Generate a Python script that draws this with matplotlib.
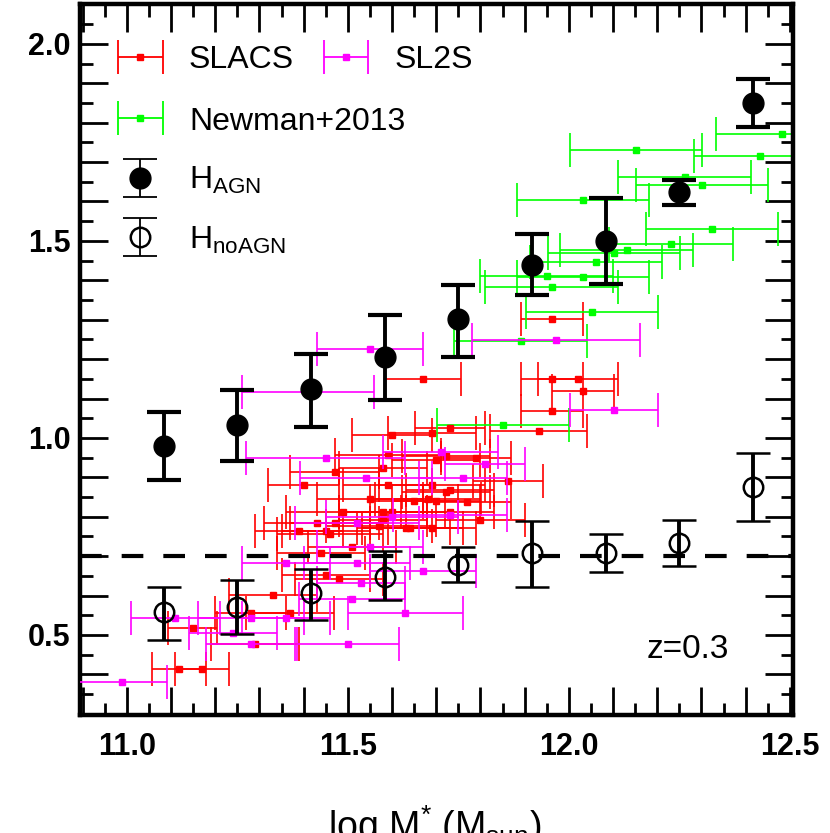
import matplotlib
matplotlib.use('Agg')
import matplotlib.pyplot as plt
from matplotlib.ticker import MultipleLocator, FuncFormatter
from matplotlib.legend_handler import HandlerErrorbar
from matplotlib.collections import LineCollection
from matplotlib.lines import Line2D

plt.rcParams['font.family'] = ['Liberation Sans', 'DejaVu Sans']
plt.rcParams['mathtext.fontset'] = 'custom'
plt.rcParams['mathtext.rm'] = 'Liberation Sans'
plt.rcParams['mathtext.it'] = 'Liberation Sans:italic'
plt.rcParams['mathtext.bf'] = 'Liberation Sans:bold'

# simulation bins: with AGN feedback / without
h_mass = [11.083, 11.250, 11.417, 11.583, 11.750, 11.917, 12.083, 12.250, 12.417]
agn_val = [0.979, 1.032, 1.124, 1.205, 1.301, 1.438, 1.499, 1.623, 1.849]
agn_lo = [0.086, 0.091, 0.097, 0.109, 0.096, 0.076, 0.109, 0.033, 0.061]
agn_hi = [0.087, 0.089, 0.088, 0.106, 0.086, 0.079, 0.109, 0.031, 0.061]
noagn_val = [0.558, 0.571, 0.606, 0.647, 0.677, 0.708, 0.708, 0.733, 0.875]
noagn_lo = [0.071, 0.069, 0.068, 0.058, 0.043, 0.086, 0.048, 0.058, 0.086]
noagn_hi = [0.064, 0.068, 0.061, 0.066, 0.046, 0.081, 0.048, 0.058, 0.086]

# observations
slacs_x = [11.961, 11.670, 11.962, 12.020, 12.032, 11.962, 11.932, 11.731, 11.690, 11.600,
           11.590, 11.722, 11.700, 11.790, 11.579, 11.470, 11.862, 11.400, 11.590, 11.690,
           11.731, 11.722, 11.550, 11.649, 11.681, 11.700, 11.770, 11.490, 11.579, 11.600,
           11.731, 11.579, 11.800, 11.430, 11.470, 11.570, 11.631, 11.640, 11.690, 11.389,
           11.450, 11.459, 11.509, 11.439, 11.480, 11.450, 11.330, 11.280, 11.369, 11.149,
           11.290, 11.118, 11.170]
slacs_y = [1.301, 1.149, 1.149, 1.149, 1.119, 1.068, 1.017, 1.025, 1.012, 1.007,
           0.956, 0.954, 0.944, 0.949, 0.924, 0.913, 0.890, 0.880, 0.880, 0.880,
           0.868, 0.863, 0.845, 0.840, 0.845, 0.840, 0.838, 0.812, 0.812, 0.812,
           0.812, 0.792, 0.792, 0.784, 0.784, 0.776, 0.771, 0.771, 0.771, 0.764,
           0.764, 0.756, 0.723, 0.708, 0.642, 0.652, 0.601, 0.556, 0.556, 0.518,
           0.477, 0.414, 0.414]
slacs_xerr = [0.07, 0.085, 0.07, 0.09, 0.07, 0.07, 0.11, 0.08, 0.10, 0.09,
              0.12, 0.10, 0.10, 0.08, 0.10, 0.10, 0.08, 0.08, 0.10, 0.12,
              0.10, 0.10, 0.12, 0.10, 0.12, 0.10, 0.10, 0.13, 0.10, 0.12,
              0.10, 0.10, 0.10, 0.12, 0.10, 0.12, 0.10, 0.12, 0.10, 0.10,
              0.10, 0.12, 0.10, 0.10, 0.10, 0.10, 0.10, 0.08, 0.10, 0.055,
              0.10, 0.06, 0.06]

sl2s_x = [11.550, 11.971, 11.410, 12.102, 11.450, 11.710, 11.810, 11.541, 11.760, 11.731,
          11.600, 11.520, 11.550, 11.520, 11.360, 11.670, 11.530, 11.510, 11.630, 11.110,
          11.280, 11.360, 11.500, 11.280, 10.990, 11.240]
sl2s_y = [1.225, 1.248, 1.116, 1.071, 0.949, 0.964, 0.934, 0.898, 0.898, 0.804,
          0.799, 0.784, 0.723, 0.682, 0.682, 0.663, 0.632, 0.591, 0.556, 0.543,
          0.543, 0.543, 0.477, 0.477, 0.381, 0.505]
sl2s_xerr = [0.12, 0.19, 0.15, 0.10, 0.18, 0.13, 0.09, 0.15, 0.10, 0.13,
             0.15, 0.14, 0.12, 0.12, 0.10, 0.12, 0.10, 0.12, 0.13, 0.10,
             0.12, 0.10, 0.115, 0.10, 0.10, 0.10]

newman_x = [12.482, 12.152, 12.432, 12.262, 12.301, 12.032, 12.324, 12.231, 12.131,
            12.102, 12.061, 11.950, 12.032, 11.961, 12.052, 11.891, 11.851]
newman_y = [1.770, 1.730, 1.715, 1.662, 1.641, 1.603, 1.529, 1.491, 1.476,
            1.469, 1.446, 1.410, 1.408, 1.382, 1.319, 1.245, 1.032]
newman_xerr = [0.15, 0.15, 0.15, 0.15, 0.15, 0.15, 0.15, 0.14, 0.15,
               0.15, 0.15, 0.15, 0.15, 0.15, 0.15, 0.15, 0.15]


class ThinErrorbar(HandlerErrorbar):
    # legend keys are drawn with thin bars, even for the thick data points
    def create_artists(self, *args, **kwargs):
        arts = super().create_artists(*args, **kwargs)
        for a in arts:
            if isinstance(a, LineCollection):
                a.set_linewidth(1.3)
            elif isinstance(a, Line2D) and a.get_marker() in ('_', '|'):
                a.set_markeredgewidth(1.3)
        return arts


fig = plt.figure(figsize=(8.3, 8.33), dpi=100)
ax = fig.add_axes([80 / 830, 118 / 833, 713 / 830, 711 / 833])

obs_style = dict(fmt='s', ms=4, elinewidth=1.2, capsize=12, capthick=1.2)
e_slacs = ax.errorbar(slacs_x, slacs_y, xerr=slacs_xerr, color='red', zorder=2, **obs_style)
e_newman = ax.errorbar(newman_x, newman_y, xerr=newman_xerr, color='lime', zorder=2, **obs_style)
e_sl2s = ax.errorbar(sl2s_x, sl2s_y, xerr=sl2s_xerr, color='magenta', zorder=3, **obs_style)

ax.axhline(0.7, color='black', lw=3, dashes=(5.2, 4.8), zorder=4)

e_agn = ax.errorbar(h_mass, agn_val, yerr=[agn_lo, agn_hi], fmt='o', color='black', ms=15,
                    elinewidth=2.8, capsize=12, capthick=3, zorder=5)
e_noagn = ax.errorbar(h_mass, noagn_val, yerr=[noagn_lo, noagn_hi], fmt='o', color='black',
                      ms=14, mfc='none', mew=1.8, elinewidth=2.8, capsize=12, capthick=3,
                      zorder=5)

hmap = {type(e_slacs): ThinErrorbar(xerr_size=0.7, yerr_size=0.6)}
leg1 = ax.legend([e_slacs, e_sl2s], ['SLACS', 'SL2S'], ncol=2, loc='center left',
                 bbox_to_anchor=(0.052, 0.921), frameon=False, fontsize=23,
                 borderpad=0, borderaxespad=0, handlelength=1.45, handletextpad=0.8,
                 columnspacing=0.9, handler_map=hmap)
ax.add_artist(leg1)
ax.legend([e_newman, e_agn, e_noagn], ['Newman+2013', 'H$_{\\rm AGN}$', 'H$_{\\rm noAGN}$'],
          loc='center left', bbox_to_anchor=(0.052, 0.751), frameon=False, fontsize=23,
          borderpad=0, borderaxespad=0, handlelength=1.45, handletextpad=0.8,
          labelspacing=0.89, handler_map=hmap)

ax.text(0.853, 0.092, 'z=0.3', transform=ax.transAxes, ha='center', va='center', fontsize=24)

ax.set_xlim(10.894, 12.507)
ax.set_ylim(0.297, 2.101)

ax.xaxis.set_major_locator(MultipleLocator(0.1))
ax.xaxis.set_minor_locator(MultipleLocator(0.05))
ax.yaxis.set_major_locator(MultipleLocator(0.1))
ax.yaxis.set_minor_locator(MultipleLocator(0.05))


def half_labels(v, pos):
    if abs(v * 2 - round(v * 2)) < 1e-6:
        return '%.1f' % v
    return ''


ax.xaxis.set_major_formatter(FuncFormatter(half_labels))
ax.yaxis.set_major_formatter(FuncFormatter(half_labels))

ax.tick_params(which='both', direction='in', top=True, right=True, colors='black')
ax.tick_params(which='major', length=20, width=2)
ax.tick_params(which='minor', length=9, width=2)
ax.tick_params(axis='x', which='major', pad=12)
ax.tick_params(axis='y', which='major', pad=7)
for lab in ax.get_xticklabels() + ax.get_yticklabels():
    lab.set_fontsize(22)
    lab.set_fontweight('bold')
for sp in ax.spines.values():
    sp.set_linewidth(3.2)

fig.text(0.524, 1 - 803 / 833, 'log M$^{*}$ (M$_{\\rm sun}$)', ha='center', va='top', fontsize=27)

fig.savefig('out.png', dpi=100)
